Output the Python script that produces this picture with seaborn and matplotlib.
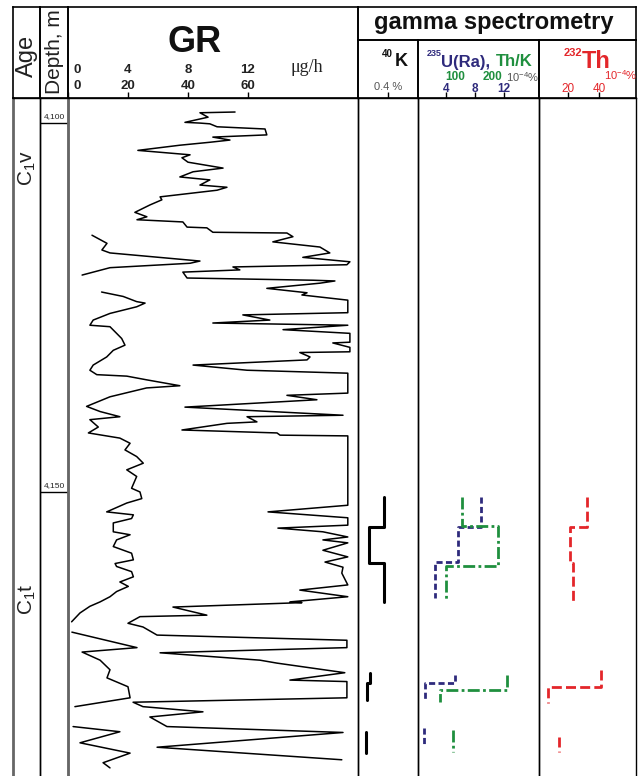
import numpy as np
import pandas as pd
import matplotlib
matplotlib.use("Agg")
import matplotlib.pyplot as plt
import matplotlib.transforms as mtransforms
import seaborn as sns

# ---------------- data ----------------
depth_range = [4096.6, 4188.5]
depth_marks = [4100, 4150]
depth_mark_labels = ["4,100", "4,150"]
age_labels = [r"C$_1$v", r"C$_1$t"]
age_label_depths = [4106.1, 4164.6]

gr_ticks_upper = [0, 4, 8, 12]          # μg/h
gr_ticks_lower = [0, 20, 40, 60]
k_ticks = [0.4]
u_ticks = [4, 8, 12]
thk_ticks = [100, 200]
th_ticks = [20, 40]

# GR curve (right, wrapping trace)
gr_a_depth = [4098.5, 4098.6, 4099.2, 4099.9, 4100.0, 4100.1, 4100.5, 4100.8, 4101.6, 4101.9,
              4102.3, 4102.6, 4103.0, 4103.7, 4104.3, 4104.7, 4105.3, 4106.1, 4106.6, 4107.3,
              4107.7, 4108.4, 4108.7, 4109.1, 4110.0, 4110.4, 4111.1, 4112.1, 4112.7, 4113.1,
              4113.4, 4114.1, 4114.2, 4114.8, 4114.9, 4115.4, 4116.1, 4116.8, 4117.6, 4118.2,
              4118.8, 4119.2, 4119.5, 4119.9, 4120.2, 4121.0, 4121.3, 4121.4, 4121.7, 4122.4,
              4123.0, 4123.3, 4124.0, 4125.7, 4126.0, 4126.7, 4127.1, 4127.4, 4128.0, 4128.5,
              4129.7, 4129.8, 4130.4, 4131.0, 4131.1, 4131.7, 4132.1, 4132.8, 4133.5, 4133.9,
              4136.6, 4136.9, 4137.5, 4138.5, 4139.6, 4139.8, 4140.5, 4140.7, 4141.6, 4142.0,
              4142.3, 4142.4, 4151.8, 4152.7, 4153.5, 4154.5, 4154.9, 4155.4, 4156.1, 4156.5,
              4156.9, 4157.9, 4158.8, 4159.5, 4160.2, 4161.0, 4162.6, 4163.3, 4164.2, 4164.9,
              4165.0, 4165.6, 4166.7, 4166.9, 4167.8, 4168.3, 4169.4, 4170.1, 4171.1, 4171.8,
              4172.8, 4173.2, 4174.5, 4175.5, 4175.7, 4177.9, 4178.5, 4179.1, 4179.8, 4180.5,
              4181.8, 4182.6, 4184.6, 4186.3]
gr_a_value = [55.7, 44, 46.7, 39, 44, 47.3, 49.7, 65.7, 66.3, 48.3,
              54, 47.3, 37.3, 23.3, 40.7, 38, 40, 51.7, 41.7, 37.3,
              47.3, 44, 53, 49.7, 30.7, 31.3, 27.3, 22.3, 26.3, 23,
              38.3, 39.7, 46.3, 48.3, 73, 75, 68.3, 84, 87.3, 78.3,
              94, 93, 55, 57.3, 38.3, 39.7, 81.7, 89, 84, 66.3,
              79.7, 78, 93.3, 93.3, 58.3, 67.3, 48.3, 93.3, 71.7, 94,
              94, 88.3, 94, 94, 77.3, 80.7, 79.7, 41.7, 59.7, 93.3,
              93.3, 73, 83, 39, 91.7, 59.7, 63, 53, 38, 69.7,
              70.7, 93.3, 93.3, 66.7, 93.3, 93.3, 70, 85, 93.3, 85,
              93.3, 85, 93.3, 85.7, 91.7, 91.3, 93.3, 77.3, 93.3, 74,
              78, 35, 46.3, 24, 20, 25, 29.7, 93, 93, 30.7,
              64, 69.7, 92.3, 74, 93, 93, 21.7, 25, 45, 27.3,
              33, 91.7, 29.7, 91.3]

# GR curve (left trace), split into segments
gr_b_seg = [1] * 8 + [2] * 61 + [3] * 9 + [4] * 6
gr_b_depth = [4115.2, 4116.3, 4117.2, 4117.6, 4118.7, 4119.0, 4119.6, 4120.6,
              4122.9, 4123.5, 4124.2, 4124.4, 4124.9, 4125.8, 4126.7, 4127.4, 4127.6, 4128.5,
              4129.2, 4130.1, 4130.8, 4131.7, 4132.8, 4133.5, 4134.1, 4134.3, 4134.8, 4135.6,
              4135.9, 4137.1, 4138.4, 4139.1, 4139.8, 4140.2, 4141.2, 4142.0, 4142.7, 4143.4,
              4144.3, 4145.2, 4146.1, 4147.0, 4147.9, 4149.5, 4150.0, 4150.9, 4151.5, 4152.7,
              4153.1, 4153.6, 4154.2, 4155.4, 4155.8, 4156.5, 4157.4, 4158.3, 4159.2, 4159.7,
              4160.1, 4160.8, 4161.5, 4162.2, 4162.8, 4163.5, 4164.2, 4164.9, 4165.5, 4166.4,
              4167.6,
              4169.0, 4171.1, 4171.7, 4172.8, 4174.1, 4175.2, 4176.4, 4177.9, 4179.1,
              4181.8, 4182.5, 4184.0, 4185.4, 4186.7, 4187.4]
gr_b_value = [8, 13, 11.3, 14, 44, 40.7, 14, 4.7,
              11.2, 18.4, 22.9, 25.7, 22.9, 14, 8.4, 7.3, 14, 16.2,
              17.9, 19, 15.1, 12.9, 8.4, 7.3, 9.6, 19.6, 26.2, 37.3,
              26.2, 14, 6.2, 10.7, 17.3, 7.3, 10.1, 6.8, 17.3, 20.7,
              19, 22.9, 25.1, 19.6, 22.9, 21.2, 24, 24.6, 19.6, 12.9,
              21.8, 21.2, 15.1, 15.1, 20.7, 16.2, 15.1, 21.2, 21.8, 15.7,
              16.2, 21.2, 21.8, 17.3, 20.1, 16.2, 14, 10.7, 7.3, 4,
              1.2,
              1.3, 23, 4.7, 10.7, 14, 13, 20, 20.7, 2.3,
              1.7, 17.3, 4, 20.7, 11.7, 14]

# gamma spectrometry step logs: interval top, bottom, value, group
k_top = [4150.7, 4154.8, 4159.6, 4174.5, 4175.9, 4182.5]
k_bot = [4154.8, 4159.6, 4164.9, 4175.9, 4178.2, 4185.4]
k_val = [0.347, 0.147, 0.347, 0.16, 0.12, 0.107]
k_grp = [1, 1, 1, 2, 2, 3]

u_top = [4150.7, 4154.8, 4159.5, 4174.8, 4175.9, 4182.0]
u_bot = [4154.8, 4159.5, 4164.4, 4175.9, 4178.2, 4184.3]
u_val = [8.8, 5.7, 2.5, 5.2, 1.1, 0.97]
u_grp = [1, 1, 1, 2, 2, 3]

thk_top = [4150.7, 4154.6, 4160.0, 4174.8, 4176.8, 4182.3]
thk_bot = [4154.6, 4160.0, 4164.7, 4176.8, 4178.5, 4185.2]
thk_val = [119, 216, 76, 240, 59, 95]
thk_grp = [1, 1, 1, 2, 2, 3]

th_top = [4150.7, 4154.8, 4159.6, 4174.1, 4176.4, 4183.2]
th_bot = [4154.8, 4159.6, 4164.9, 4176.4, 4178.6, 4185.2]
th_val = [32.3, 21.3, 23.2, 41.3, 7.1, 14.2]
th_grp = [1, 1, 1, 2, 2, 3]

# ---------------- style ----------------
sns.set_style("white")
plt.rcParams["font.family"] = ["Liberation Sans", "DejaVu Sans"]
plt.rcParams["mathtext.fontset"] = "custom"
plt.rcParams["mathtext.rm"] = "Liberation Sans"
plt.rcParams["mathtext.it"] = "Liberation Sans:italic"
plt.rcParams["mathtext.bf"] = "Liberation Sans:bold"

NAVY = "#2e2a7c"
GREEN = "#1f8f3e"
RED = "#e3262a"
GRAY = "#555555"

W, H = 640, 776
fig = plt.figure(figsize=(6.4, 7.76), dpi=100)


def rect(x0, x1, y0, y1):
    return [x0 / W, 1 - y1 / H, (x1 - x0) / W, (y1 - y0) / H]


TOP, HMID, HBOT, BOT = 7, 40, 98, 776
cols = {"age": (13, 40), "depth": (40, 68), "gr": (68, 358),
        "k": (358, 418), "u": (418, 539), "th": (539, 636)}

# body axes
axes = {}
first = None
for name, (x0, x1) in cols.items():
    ax = fig.add_axes(rect(x0, x1, HBOT, BOT), sharey=first)
    if first is None:
        first = ax
    ax.set_facecolor("none")
    for s in ax.spines.values():
        s.set_color("black")
        s.set_linewidth(1.0)
    ax.spines["bottom"].set_visible(False)
    axes[name] = ax

ax_age, ax_depth, ax_gr, ax_k, ax_u, ax_th = (axes[n] for n in cols)
ax_age.spines["left"].set_color("#666666")
ax_age.spines["left"].set_linewidth(2.0)
ax_gr.spines["left"].set_color("#666666")
ax_gr.spines["left"].set_linewidth(2.0)

# GR curves
df_a = pd.DataFrame({"depth": gr_a_depth, "val": gr_a_value, "seg": 1})
df_b = pd.DataFrame({"depth": gr_b_depth, "val": gr_b_value, "seg": gr_b_seg})
for df in (df_a, df_b):
    sns.lineplot(data=df, x="val", y="depth", units="seg", estimator=None, sort=False,
                 orient="y", ax=ax_gr, color="black", lw=1.1)


def step_frame(tops, bots, vals, grps):
    rows = []
    for t, b, v, g in zip(tops, bots, vals, grps):
        rows.append((g, t, v))
        rows.append((g, b, v))
    return pd.DataFrame(rows, columns=["grp", "depth", "val"])


ax_thk = ax_u.twiny()
ax_thk.set_facecolor("none")
for s in ax_thk.spines.values():
    s.set_visible(False)

sns.lineplot(data=step_frame(k_top, k_bot, k_val, k_grp), x="val", y="depth", units="grp",
             estimator=None, sort=False, orient="y", ax=ax_k, color="black", lw=2.2)
sns.lineplot(data=step_frame(u_top, u_bot, u_val, u_grp), x="val", y="depth", units="grp",
             estimator=None, sort=False, orient="y", ax=ax_u, color=NAVY, lw=2.0,
             linestyle=(0, (2.2, 1.2)))
sns.lineplot(data=step_frame(thk_top, thk_bot, thk_val, thk_grp), x="val", y="depth", units="grp",
             estimator=None, sort=False, orient="y", ax=ax_thk, color=GREEN, lw=2.0,
             linestyle=(0, (4.3, 1.2, 1.0, 1.2)))
sns.lineplot(data=step_frame(th_top, th_bot, th_val, th_grp), x="val", y="depth", units="grp",
             estimator=None, sort=False, orient="y", ax=ax_th, color=RED, lw=2.0,
             linestyle=(0, (3.6, 1.5)))

# scales
ax_age.set_ylim(depth_range[1], depth_range[0])
ax_age.set_xlim(0, 1)
ax_depth.set_xlim(0, 1)
ax_gr.set_xlim(0, 96.7)
ax_k.set_xlim(0, 0.8)
ax_u.set_xlim(0.14, 16.83)
ax_thk.set_xlim(0, 327)
ax_th.set_xlim(1.3, 63.9)

tick_sets = {ax_age: [], ax_depth: [], ax_gr: gr_ticks_lower, ax_k: k_ticks, ax_u: u_ticks, ax_th: th_ticks}
for ax, tks in tick_sets.items():
    ax.set_xlabel("")
    ax.set_ylabel("")
    ax.set_yticks([])
    ax.xaxis.set_ticks_position("top")
    ax.set_xticks(tks)
    ax.tick_params(axis="x", direction="out", length=4, width=1, color="black",
                   labeltop=False, labelbottom=False, top=True, bottom=False)
ax_thk.set_xticks([])
ax_thk.set_xlabel("")
ax_thk.set_ylabel("")

# depth marks and ages
bl_depth = mtransforms.blended_transform_factory(ax_depth.transAxes, ax_depth.transData)
for d, lab in zip(depth_marks, depth_mark_labels):
    ax_depth.axhline(d, color="black", lw=1.0)
    ax_depth.text(0.5, d, lab, transform=bl_depth + mtransforms.ScaledTranslation(0, 2 / 72, fig.dpi_scale_trans),
                  ha="center", va="bottom", fontsize=6, color="#222222")
bl_age = mtransforms.blended_transform_factory(ax_age.transAxes, ax_age.transData)
for lab, d in zip(age_labels, age_label_depths):
    ax_age.text(0.52, d, lab, transform=bl_age, rotation=90, ha="center", va="center",
                fontsize=15, color="#222222")

# header cells
hdr_cells = [(13, 40, TOP, HBOT), (40, 68, TOP, HBOT), (68, 358, TOP, HBOT),
             (358, 636, TOP, HMID), (358, 418, HMID, HBOT), (418, 539, HMID, HBOT),
             (539, 636, HMID, HBOT)]
for (x0, x1, y0, y1) in hdr_cells:
    h = fig.add_axes(rect(x0, x1, y0, y1))
    h.set_facecolor("none")
    h.set_xticks([])
    h.set_yticks([])
    for s in h.spines.values():
        s.set_color("black")
        s.set_linewidth(1.2)

# text canvas in pixel units
cv = fig.add_axes([0, 0, 1, 1])
cv.set_xlim(0, W)
cv.set_ylim(H, 0)
cv.axis("off")
cv.set_zorder(30)
cv.patch.set_alpha(0)

cv.text(27, 56, "Age", rotation=90, ha="center", va="center", fontsize=17, color="#222222")
cv.text(55, 52, "Depth, m", rotation=90, ha="center", va="center", fontsize=15, color="#222222")
cv.text(195, 42, "GR", ha="center", va="center", fontsize=26, fontweight="bold", color="#111111")
cv.text(307, 68, "μg/h", ha="center", va="center", fontsize=13,
        family=["Liberation Serif", "DejaVu Serif"], color="#222222")

off0 = mtransforms.ScaledTranslation(5 / 100, 0, fig.dpi_scale_trans)
bl_gr = mtransforms.blended_transform_factory(ax_gr.transData, cv.transData)
for up, low in zip(gr_ticks_upper, gr_ticks_lower):
    tr = bl_gr + off0 if low == 0 else bl_gr
    ha = "left" if low == 0 else "center"
    cv.text(up * 5, 70, str(up), transform=tr, ha=ha, va="center", fontsize=9.5,
            fontweight="bold", color="#222222")
    cv.text(low, 86, str(low), transform=tr, ha=ha, va="center", fontsize=9.5,
            fontweight="bold", color="#222222")

cv.text(494, 22, "gamma spectrometry", ha="center", va="center", fontsize=17,
        fontweight="bold", color="#111111")

# K header
cv.text(401, 62, "K", ha="center", va="center", fontsize=13, fontweight="bold", color="#111111")
cv.text(387, 54, "40", ha="center", va="center", fontsize=7, fontweight="bold", color="#111111")
bl_k = mtransforms.blended_transform_factory(ax_k.transData, cv.transData)
for t in k_ticks:
    cv.text(t, 87, f"{t} %", transform=bl_k, ha="center", va="center", fontsize=8, color=GRAY)

# U / ThK header
cv.text(434, 54, "235", ha="center", va="center", fontsize=6.5, fontweight="bold", color=NAVY)
cv.text(441, 62, "U(Ra),", ha="left", va="center", fontsize=12, fontweight="bold", color=NAVY)
cv.text(533, 62, "Th/K", ha="right", va="center", fontsize=12, fontweight="bold", color=GREEN)
bl_u = mtransforms.blended_transform_factory(ax_u.transData, cv.transData)
for t in u_ticks:
    cv.text(t, 89, str(t), transform=bl_u, ha="center", va="center", fontsize=8.5,
            fontweight="bold", color=NAVY)
bl_thk = mtransforms.blended_transform_factory(ax_thk.transData, cv.transData)
for t in thk_ticks:
    cv.text(t, 77, str(t), transform=bl_thk, ha="center", va="center", fontsize=8.5,
            fontweight="bold", color=GREEN)
cv.text(523, 77, r"10$^{-4}$%", ha="center", va="center", fontsize=8, color=GRAY)

# Th header
cv.text(582, 62, "Th", ha="left", va="center", fontsize=17, fontweight="bold", color=RED)
cv.text(573, 53, "232", ha="center", va="center", fontsize=8, fontweight="bold", color=RED)
cv.text(621, 75, r"10$^{-4}$%", ha="center", va="center", fontsize=8, color=RED)
bl_th = mtransforms.blended_transform_factory(ax_th.transData, cv.transData)
for t in th_ticks:
    cv.text(t, 89, str(t), transform=bl_th, ha="center", va="center", fontsize=8.5, color=RED)

fig.savefig("out.png", dpi=100)
